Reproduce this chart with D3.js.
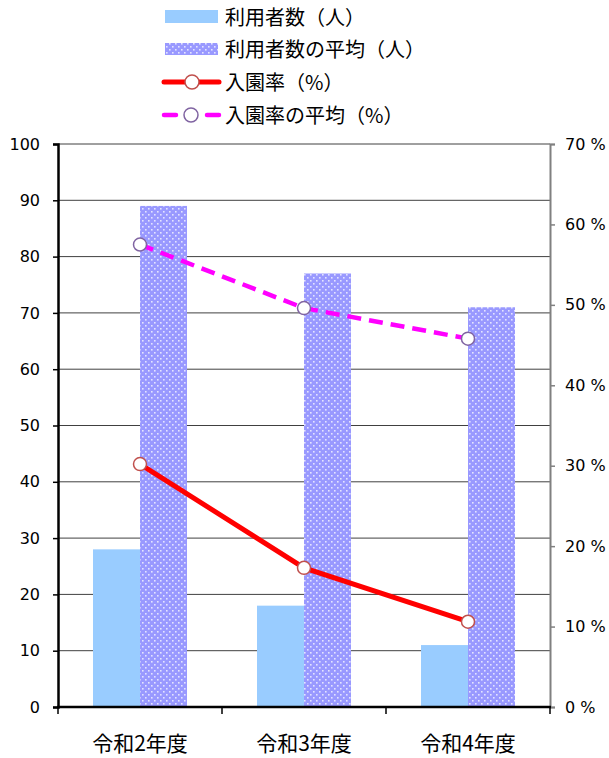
<!DOCTYPE html>
<html>
<head>
<meta charset="utf-8">
<script src="https://cdn.jsdelivr.net/npm/d3@7"></script>
<style>
  body { margin: 0; background: #fff; }
  svg { display: block; }
</style>
</head>
<body>
<div id="chart"></div>
<script>
const categories = ["令和2年度", "令和3年度", "令和4年度"];
const users = [28, 18, 11];
const usersAvg = [89, 77, 71];
const rate = [30.2, 17.3, 10.6];
const rateAvg = [57.5, 49.6, 45.8];
const leftTicks = [0, 10, 20, 30, 40, 50, 60, 70, 80, 90, 100];
const rightTicks = [0, 10, 20, 30, 40, 50, 60, 70];

const seriesNames = ["利用者数（人）", "利用者数の平均（人）", "入園率（%）", "入園率の平均（%）"];

const WIDTH = 609, HEIGHT = 758;
const LEFT = 58, RIGHT = 550, TOP = 144, BOTTOM = 707;

const svg = d3.select("#chart")
    .append("svg")
    .attr("width", WIDTH)
    .attr("height", HEIGHT);

// dotted fill for the average bars
const pat = svg.append("defs").append("pattern")
    .attr("id", "dots")
    .attr("patternUnits", "userSpaceOnUse")
    .attr("width", 6)
    .attr("height", 6);
pat.append("rect").attr("width", 6).attr("height", 6).attr("fill", "#9999ff");
pat.append("rect").attr("x", 1).attr("y", 1).attr("width", 1.6).attr("height", 1.6).attr("fill", "#e4e4ff");
pat.append("rect").attr("x", 4).attr("y", 4).attr("width", 1.6).attr("height", 1.6).attr("fill", "#e4e4ff");

const x = d3.scaleBand().domain(categories).range([LEFT, RIGHT]);
const yL = d3.scaleLinear().domain([0, 100]).range([BOTTOM, TOP]);
const yR = d3.scaleLinear().domain([0, 70]).range([BOTTOM, TOP]);

const barW = 47;

// gridlines
svg.append("g")
    .selectAll("line")
    .data(leftTicks.slice(1))
    .enter()
    .append("line")
    .attr("x1", LEFT)
    .attr("x2", RIGHT)
    .attr("y1", d => yL(d))
    .attr("y2", d => yL(d))
    .attr("stroke", "#404040")
    .attr("stroke-width", 1);

// bars
const groups = svg.append("g")
    .selectAll("g")
    .data(categories)
    .enter()
    .append("g");

groups.append("rect")
    .attr("x", d => x(d) + x.bandwidth() / 2 - barW)
    .attr("width", barW)
    .attr("y", (d, i) => yL(users[i]))
    .attr("height", (d, i) => BOTTOM - yL(users[i]))
    .attr("fill", "#99ccff");

groups.append("rect")
    .attr("x", d => x(d) + x.bandwidth() / 2)
    .attr("width", barW)
    .attr("y", (d, i) => yL(usersAvg[i]))
    .attr("height", (d, i) => BOTTOM - yL(usersAvg[i]))
    .attr("fill", "url(#dots)");

// axes
const leftAxis = svg.append("g")
    .attr("transform", `translate(${LEFT},0)`)
    .call(d3.axisLeft(yL).tickValues(leftTicks).tickSize(5).tickPadding(13));
leftAxis.select(".domain").attr("stroke", "#000").attr("stroke-width", 2.5);
leftAxis.selectAll(".tick line").attr("stroke", "#000").attr("stroke-width", 1.5);

const rightAxis = svg.append("g")
    .attr("transform", `translate(${RIGHT},0)`)
    .call(d3.axisRight(yR).tickValues(rightTicks).tickSize(5).tickPadding(10).tickFormat(d => d + " %"));
rightAxis.select(".domain").attr("stroke", "#808080").attr("stroke-width", 2);
rightAxis.selectAll(".tick line").attr("stroke", "#808080").attr("stroke-width", 1.5);

[leftAxis, rightAxis].forEach(a => a.selectAll("text")
    .attr("fill", "#000")
    .style("font-family", "'DejaVu Sans', Verdana, sans-serif")
    .style("font-size", "16px"));

const bottomAxis = svg.append("g")
    .attr("transform", `translate(0,${BOTTOM})`)
    .call(d3.axisBottom(x).tickSize(0).tickPadding(29));
bottomAxis.select(".domain").remove();
bottomAxis.selectAll("text")
    .attr("fill", "#000")
    .style("font-family", "'Noto Sans CJK JP', sans-serif")
    .style("font-size", "21px");

svg.append("line")
    .attr("x1", LEFT - 1).attr("x2", RIGHT + 1)
    .attr("y1", BOTTOM).attr("y2", BOTTOM)
    .attr("stroke", "#000").attr("stroke-width", 2.5);

svg.append("g")
    .selectAll("line")
    .data([LEFT, ...categories.map(c => x(c) + x.bandwidth())])
    .enter()
    .append("line")
    .attr("x1", d => d).attr("x2", d => d)
    .attr("y1", BOTTOM).attr("y2", BOTTOM + 7)
    .attr("stroke", "#000").attr("stroke-width", 1.5);

// lines
const cx = d => x(d) + x.bandwidth() / 2;

const lineRate = d3.line().x((d, i) => cx(categories[i])).y(d => yR(d));

svg.append("path")
    .datum(rateAvg)
    .attr("d", lineRate)
    .attr("fill", "none")
    .attr("stroke", "#ff00ff")
    .attr("stroke-width", 4.5)
    .attr("stroke-dasharray", "14,8");

svg.append("path")
    .datum(rate)
    .attr("d", lineRate)
    .attr("fill", "none")
    .attr("stroke", "#ff0000")
    .attr("stroke-width", 5);

svg.append("g").selectAll("circle")
    .data(rateAvg)
    .enter()
    .append("circle")
    .attr("cx", (d, i) => cx(categories[i]))
    .attr("cy", d => yR(d))
    .attr("r", 6.5)
    .attr("fill", "#fff")
    .attr("stroke", "#8064a2")
    .attr("stroke-width", 1.5);

svg.append("g").selectAll("circle")
    .data(rate)
    .enter()
    .append("circle")
    .attr("cx", (d, i) => cx(categories[i]))
    .attr("cy", d => yR(d))
    .attr("r", 6.5)
    .attr("fill", "#fff")
    .attr("stroke", "#c0504d")
    .attr("stroke-width", 1.5);

// legend
const legend = svg.append("g");
const rowY = [17, 49, 82, 115];

legend.append("rect").attr("x", 165).attr("y", rowY[0] - 7).attr("width", 53).attr("height", 13).attr("fill", "#99ccff");
legend.append("rect").attr("x", 165).attr("y", rowY[1] - 6).attr("width", 53).attr("height", 12).attr("fill", "url(#dots)");

legend.append("line")
    .attr("x1", 164).attr("x2", 219).attr("y1", rowY[2]).attr("y2", rowY[2])
    .attr("stroke", "#ff0000").attr("stroke-width", 5).attr("stroke-linecap", "round");
legend.append("circle").attr("cx", 192).attr("cy", rowY[2]).attr("r", 7)
    .attr("fill", "#fff").attr("stroke", "#c0504d").attr("stroke-width", 1.5);

legend.append("line")
    .attr("x1", 164).attr("x2", 219).attr("y1", rowY[3]).attr("y2", rowY[3])
    .attr("stroke", "#ff00ff").attr("stroke-width", 4.5).attr("stroke-linecap", "round")
    .attr("stroke-dasharray", "12,31");
legend.append("circle").attr("cx", 191).attr("cy", rowY[3]).attr("r", 7)
    .attr("fill", "#fff").attr("stroke", "#8064a2").attr("stroke-width", 1.5);

legend.selectAll("text")
    .data(seriesNames)
    .enter()
    .append("text")
    .attr("x", 225)
    .attr("y", (d, i) => rowY[i])
    .attr("dy", "0.38em")
    .style("font-family", "'Noto Sans CJK JP', sans-serif")
    .style("font-size", "20px")
    .attr("fill", "#000")
    .text(d => d);
</script>
</body>
</html>
